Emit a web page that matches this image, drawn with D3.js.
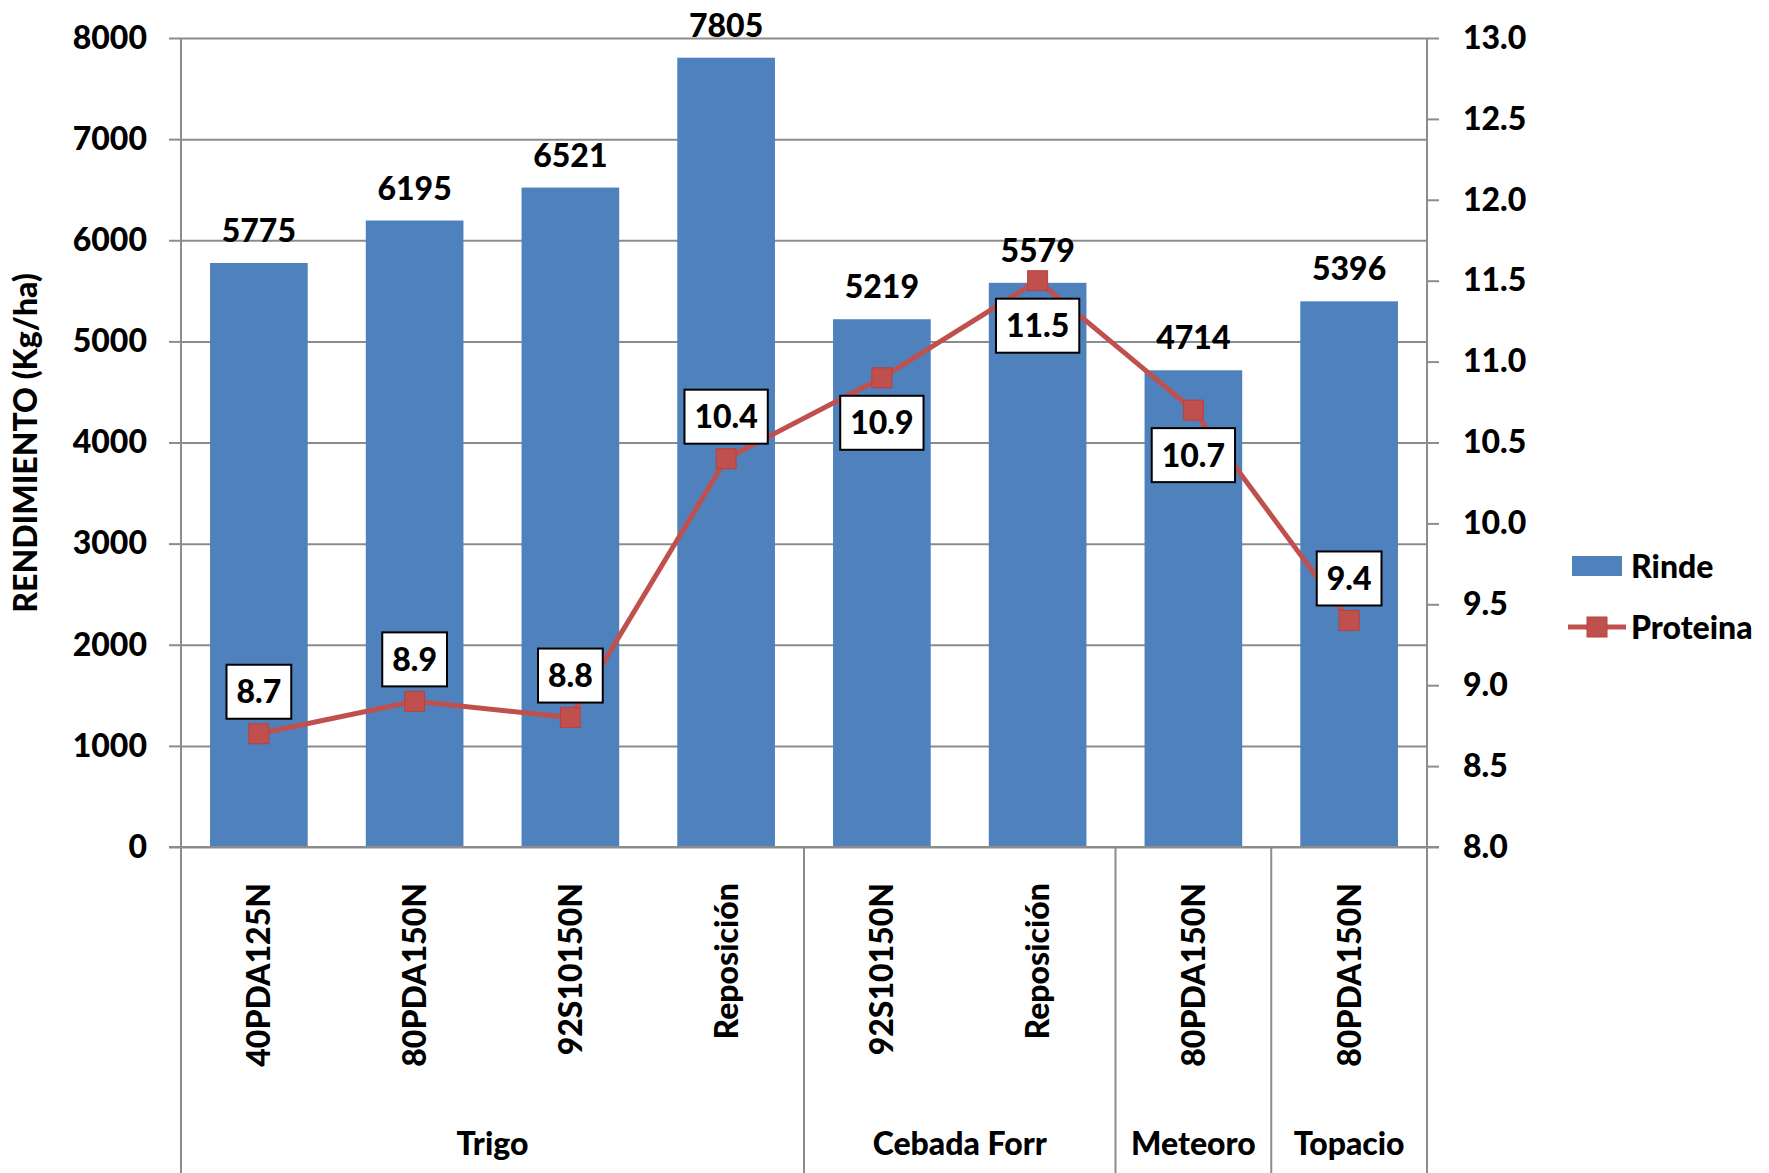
<!DOCTYPE html>
<html>
<head>
<meta charset="utf-8">
<script src="https://cdn.jsdelivr.net/npm/d3@7"></script>
<style>
  html, body { margin: 0; padding: 0; background: #fff; }
  svg { display: block; font-family: Lato, "Open Sans", sans-serif; font-weight: 900; }
</style>
</head>
<body>
<svg id="chart" width="1769" height="1173"></svg>
<script>
// Yield (Rinde, kg/ha) and protein (Proteina, %) per treatment
const groups = ["Trigo", "Trigo", "Trigo", "Trigo", "Cebada Forr", "Cebada Forr", "Meteoro", "Topacio"];
const categories = ["40PDA125N", "80PDA150N", "92S10150N", "Reposición", "92S10150N", "Reposición", "80PDA150N", "80PDA150N"];
const rinde = [5775, 6195, 6521, 7805, 5219, 5579, 4714, 5396];
const proteina = [8.7, 8.9, 8.8, 10.4, 10.9, 11.5, 10.7, 9.4];
const proteinaLabelSide = ["above", "above", "above", "above", "below", "below", "below", "above"];
const rindeTicks = [0, 1000, 2000, 3000, 4000, 5000, 6000, 7000, 8000];
const proteinaTicks = [8.0, 8.5, 9.0, 9.5, 10.0, 10.5, 11.0, 11.5, 12.0, 12.5, 13.0];
const seriesNames = ["Rinde", "Proteina"];
const yTitle = "RENDIMIENTO (Kg/ha)";

const W = 1769, H = 1173;
const m = { left: 181, right: 1427, top: 38, bottom: 847 };
const BAR = "#4F81BD", LINE = "#C0504D", GRID = "#8c8c8c";
const FS = 32;
const FONT = 'Lato, "Open Sans", sans-serif';

const svg = d3.select("#chart");

const x = d3.scaleBand()
  .domain(d3.range(categories.length))
  .range([m.left, m.right])
  .paddingInner(0.373)
  .paddingOuter(0.1865);
const bw = x.bandwidth();
const cx = i => x(i) + bw / 2;
const y = d3.scaleLinear().domain([0, 8000]).range([m.bottom, m.top]);
const y2 = d3.scaleLinear().domain([8, 13]).range([m.bottom, m.top]);

// horizontal gridlines
svg.append("g")
  .attr("transform", `translate(${m.left},0)`)
  .call(d3.axisLeft(y).tickValues(rindeTicks).tickSize(-(m.right - m.left)).tickFormat(""))
  .call(g => g.select(".domain").remove())
  .call(g => g.selectAll("line").attr("stroke", GRID).attr("stroke-width", 2));

// bars
svg.append("g").selectAll("rect").data(rinde).join("rect")
  .attr("x", (d, i) => x(i))
  .attr("width", bw)
  .attr("y", d => y(d))
  .attr("height", d => y(0) - y(d))
  .attr("fill", BAR);

// left axis ticks + labels
svg.append("g")
  .attr("transform", `translate(${m.left},0)`)
  .call(d3.axisLeft(y).tickValues(rindeTicks).tickSize(12).tickPadding(22).tickFormat(d3.format("d")))
  .call(g => g.select(".domain").remove())
  .call(g => g.selectAll("line").attr("stroke", GRID).attr("stroke-width", 2))
  .call(g => g.selectAll("text").attr("fill", "#000").attr("font-size", FS)
    .attr("font-family", FONT).attr("font-weight", 900));

// right axis ticks + labels
svg.append("g")
  .attr("transform", `translate(${m.right},0)`)
  .call(d3.axisRight(y2).tickValues(proteinaTicks).tickSize(12).tickPadding(24).tickFormat(d3.format(".1f")))
  .call(g => g.select(".domain").remove())
  .call(g => g.selectAll("line").attr("stroke", GRID).attr("stroke-width", 2))
  .call(g => g.selectAll("text").attr("fill", "#000").attr("font-size", FS)
    .attr("font-family", FONT).attr("font-weight", 900));

// axis lines and category-group frame
const boundary = i => x(i) - x.step() * x.paddingInner() / 2;
const groupStarts = d3.range(groups.length).filter(i => i === 0 || groups[i] !== groups[i - 1]);
const frame = svg.append("g").attr("stroke", GRID).attr("stroke-width", 2);
frame.append("line").attr("x1", m.left).attr("x2", m.left).attr("y1", m.top).attr("y2", H);
frame.append("line").attr("x1", m.right).attr("x2", m.right).attr("y1", m.top).attr("y2", H);
frame.selectAll("line.sep").data(groupStarts.filter(i => i > 0)).join("line")
  .attr("class", "sep")
  .attr("x1", d => boundary(d)).attr("x2", d => boundary(d))
  .attr("y1", y(0)).attr("y2", H);
frame.append("line").attr("x1", m.left - 12).attr("x2", m.right + 12).attr("y1", y(0)).attr("y2", y(0));

// bar value labels
svg.append("g").selectAll("text").data(rinde).join("text")
  .attr("x", (d, i) => cx(i))
  .attr("y", d => y(d) - 21)
  .attr("text-anchor", "middle")
  .attr("font-size", FS)
  .text(d => d);

// protein line + markers
svg.append("path")
  .datum(proteina)
  .attr("fill", "none")
  .attr("stroke", LINE)
  .attr("stroke-width", 5)
  .attr("d", d3.line().x((d, i) => cx(i)).y(d => y2(d)));
svg.append("g").selectAll("rect").data(proteina).join("rect")
  .attr("x", (d, i) => cx(i) - 10)
  .attr("y", d => y2(d) - 10)
  .attr("width", 20).attr("height", 20)
  .attr("fill", LINE)
  .attr("stroke", "#b5423f").attr("stroke-width", 1);

// protein value labels in white boxes
const boxH = 54;
const labels = svg.append("g").selectAll("g").data(proteina).join("g");
labels.each(function (d, i) {
  const g = d3.select(this);
  const py = y2(d);
  const top = proteinaLabelSide[i] === "above" ? py - 15 - boxH : py + 18;
  const t = g.append("text")
    .attr("x", cx(i))
    .attr("y", top + boxH / 2)
    .attr("dy", "0.36em")
    .attr("text-anchor", "middle")
    .attr("font-size", FS)
    .text(d3.format(".1f")(d));
  const tw = t.node().getComputedTextLength();
  g.insert("rect", "text")
    .attr("x", cx(i) - tw / 2 - 10)
    .attr("y", top)
    .attr("width", tw + 20)
    .attr("height", boxH)
    .attr("fill", "#fff")
    .attr("stroke", "#000")
    .attr("stroke-width", 2);
});

// category labels (rotated)
svg.append("g").selectAll("text").data(categories).join("text")
  .attr("transform", (d, i) => `translate(${cx(i)},883) rotate(-90)`)
  .attr("dy", "0.36em")
  .attr("text-anchor", "end")
  .attr("font-size", FS)
  .text(d => d);

// group labels
svg.append("g").selectAll("text").data(groupStarts).join("text")
  .attr("x", (s, k) => {
    const e = k + 1 < groupStarts.length ? groupStarts[k + 1] : groups.length;
    return (boundary(s) + (e < groups.length ? boundary(e) : m.right)) / 2;
  })
  .attr("y", 1155)
  .attr("text-anchor", "middle")
  .attr("font-size", FS)
  .text(s => groups[s]);

// y-axis title
svg.append("text")
  .attr("transform", "translate(37,443) rotate(-90)")
  .attr("text-anchor", "middle")
  .attr("font-size", 32)
  .text(yTitle);

// legend
const lg = svg.append("g");
lg.append("rect").attr("x", 1572).attr("y", 556).attr("width", 50).attr("height", 20).attr("fill", BAR);
lg.append("text").attr("x", 1631).attr("y", 578).attr("font-size", FS).text(seriesNames[0]);
lg.append("line").attr("x1", 1568).attr("x2", 1626).attr("y1", 627).attr("y2", 627)
  .attr("stroke", LINE).attr("stroke-width", 5);
lg.append("rect").attr("x", 1587).attr("y", 617).attr("width", 20).attr("height", 20)
  .attr("fill", LINE).attr("stroke", "#b5423f").attr("stroke-width", 1);
lg.append("text").attr("x", 1631).attr("y", 639).attr("font-size", FS).text(seriesNames[1]);
</script>
</body>
</html>
